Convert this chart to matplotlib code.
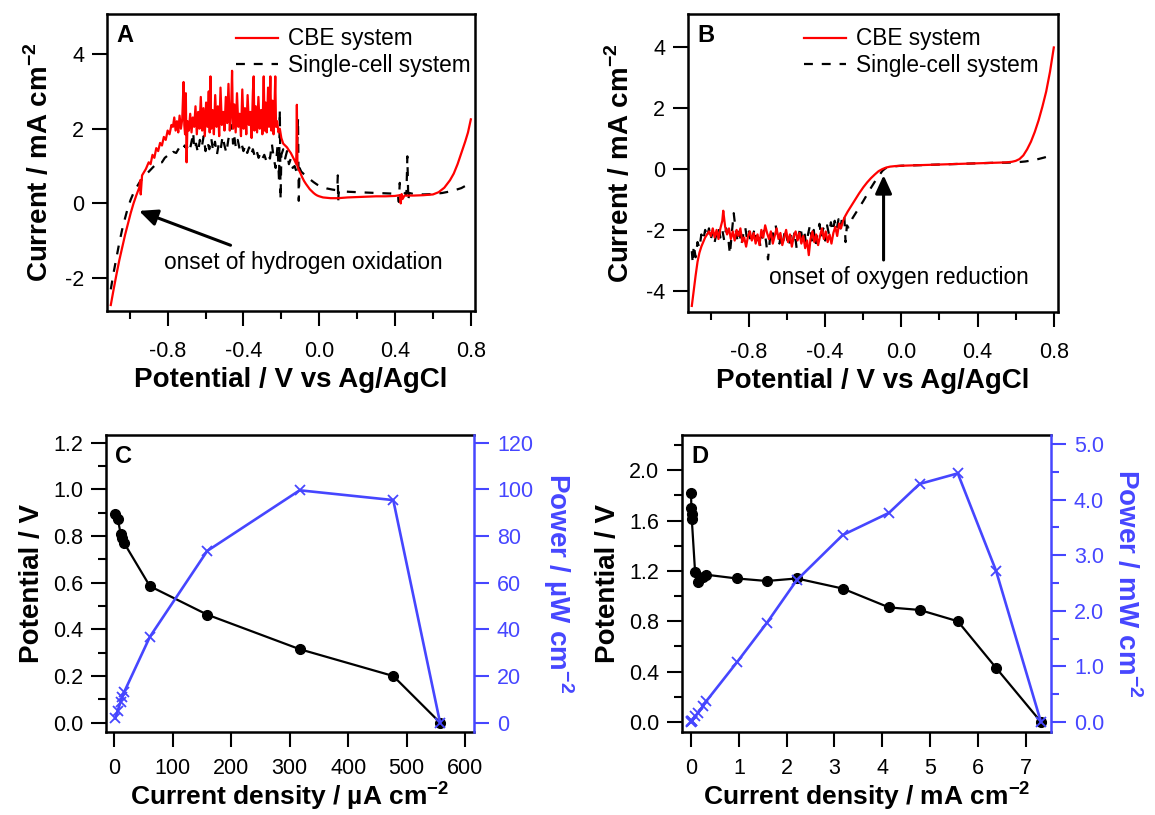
import matplotlib
matplotlib.use("Agg")
import matplotlib.pyplot as plt
from matplotlib.ticker import MultipleLocator, FormatStrFormatter

plt.rcParams['font.family'] = ['Liberation Sans', 'DejaVu Sans']
plt.rcParams['axes.unicode_minus'] = False
plt.rcParams['mathtext.fontset'] = 'custom'
plt.rcParams['mathtext.rm'] = 'Liberation Sans'
plt.rcParams['mathtext.bf'] = 'Liberation Sans:bold'

RED = '#ff0000'
BLUE = '#4646ff'

# ---- panel A: anode sweep (V vs Ag/AgCl, mA cm-2) ----
cbe_a = [
    (-1.100, -2.72), (-1.085, -2.30), (-1.070, -1.90), (-1.055, -1.52), (-1.040, -1.18),
    (-1.025, -0.85), (-1.010, -0.55), (-0.995, -0.26), (-0.980, 0.00), (-0.965, 0.22),
    (-0.950, 0.42), (-0.945, 0.62), (-0.942, 0.24), (-0.935, 0.75), (-0.915, 0.92),
    (-0.900, 1.10), (-0.890, 1.05), (-0.880, 1.30), (-0.870, 1.22), (-0.860, 1.48),
    (-0.850, 1.40), (-0.840, 1.62), (-0.830, 1.55), (-0.820, 1.78), (-0.810, 1.70),
    (-0.800, 1.95), (-0.790, 1.85), (-0.780, 2.10), (-0.772, 2.05), (-0.765, 2.30),
    (-0.758, 1.95), (-0.751, 2.20), (-0.744, 1.90), (-0.737, 2.35), (-0.730, 2.00),
    (-0.723, 2.25), (-0.716, 3.25), (-0.712, 2.10), (-0.708, 1.85), (-0.704, 2.95),
    (-0.700, 1.10), (-0.695, 2.20), (-0.688, 1.95), (-0.681, 2.40), (-0.674, 1.90),
    (-0.667, 2.30), (-0.660, 2.05), (-0.653, 2.60), (-0.646, 1.85), (-0.639, 2.45),
    (-0.632, 2.00), (-0.625, 2.85), (-0.618, 1.95), (-0.611, 2.55), (-0.604, 1.80),
    (-0.597, 2.70), (-0.590, 2.05), (-0.583, 3.00), (-0.578, 1.90), (-0.574, 3.40),
    (-0.570, 2.00), (-0.563, 2.50), (-0.556, 1.85), (-0.549, 2.90), (-0.542, 2.05),
    (-0.535, 2.60), (-0.528, 1.80), (-0.521, 3.10), (-0.514, 2.10), (-0.507, 2.45),
    (-0.500, 1.95), (-0.493, 2.85), (-0.486, 2.15), (-0.479, 3.20), (-0.472, 1.95),
    (-0.465, 2.50), (-0.460, 3.55), (-0.455, 2.00), (-0.448, 2.65), (-0.441, 1.90),
    (-0.434, 2.95), (-0.427, 2.05), (-0.420, 2.40), (-0.413, 1.80), (-0.406, 3.05),
    (-0.399, 2.00), (-0.392, 2.55), (-0.385, 1.85), (-0.378, 2.90), (-0.371, 2.10),
    (-0.364, 2.45), (-0.357, 1.75), (-0.350, 3.00), (-0.346, 3.40), (-0.342, 1.95),
    (-0.335, 2.60), (-0.328, 1.90), (-0.321, 2.85), (-0.314, 2.00), (-0.307, 2.50),
    (-0.300, 1.85), (-0.293, 3.40), (-0.288, 1.95), (-0.283, 2.70), (-0.277, 1.90),
    (-0.270, 3.10), (-0.265, 2.05), (-0.258, 3.40), (-0.253, 1.95), (-0.247, 2.75),
    (-0.241, 1.85), (-0.236, 2.60), (-0.232, 3.40), (-0.228, 2.05), (-0.222, 2.20),
    (-0.215, 1.90), (-0.208, 2.00), (-0.200, 1.75), (-0.190, 1.60), (-0.180, 1.55),
    (-0.170, 1.50), (-0.160, 1.42), (-0.150, 1.35), (-0.140, 1.25), (-0.130, 1.15),
    (-0.121, 1.05), (-0.118, 2.64), (-0.115, 1.00), (-0.108, 0.90), (-0.100, 0.82),
    (-0.090, 0.70), (-0.080, 0.60), (-0.070, 0.52), (-0.060, 0.45), (-0.050, 0.38),
    (-0.040, 0.33), (-0.030, 0.28), (-0.020, 0.24), (-0.010, 0.21), (0.000, 0.19),
    (0.020, 0.16), (0.040, 0.15), (0.060, 0.14), (0.080, 0.14), (0.100, 0.14),
    (0.150, 0.16), (0.200, 0.17), (0.250, 0.18), (0.300, 0.19), (0.350, 0.19),
    (0.400, 0.20), (0.425, 0.22), (0.430, 0.00), (0.435, 0.25), (0.440, 0.12),
    (0.450, 0.21), (0.500, 0.21), (0.550, 0.22), (0.600, 0.24), (0.630, 0.30),
    (0.660, 0.42), (0.690, 0.62), (0.710, 0.80), (0.730, 1.05), (0.750, 1.35),
    (0.770, 1.65), (0.785, 1.90), (0.800, 2.25),
]
single_a = [
    (-1.100, -2.30), (-1.085, -1.85), (-1.070, -1.45), (-1.055, -1.05), (-1.040, -0.70),
    (-1.025, -0.40), (-1.010, -0.12), (-0.995, 0.10), (-0.980, 0.28), (-0.965, 0.42),
    (-0.950, 0.55), (-0.935, 0.65), (-0.920, 0.74), (-0.905, 0.82), (-0.890, 0.90),
    (-0.875, 0.98), (-0.860, 1.05), (-0.845, 1.12), (-0.830, 1.10), (-0.815, 1.22),
    (-0.800, 1.28), (-0.785, 1.25), (-0.770, 1.38), (-0.755, 1.35), (-0.740, 1.48),
    (-0.725, 1.40), (-0.710, 1.55), (-0.700, 1.45), (-0.690, 1.62), (-0.680, 1.50),
    (-0.670, 1.75), (-0.665, 1.90), (-0.660, 1.45), (-0.650, 1.60), (-0.640, 1.35),
    (-0.630, 1.70), (-0.620, 1.50), (-0.610, 1.80), (-0.600, 1.40), (-0.590, 1.65),
    (-0.580, 1.45), (-0.570, 1.75), (-0.560, 1.40), (-0.550, 1.65), (-0.540, 1.30),
    (-0.530, 1.60), (-0.520, 1.45), (-0.510, 1.80), (-0.500, 1.55), (-0.490, 1.35),
    (-0.480, 1.70), (-0.470, 1.95), (-0.460, 2.10), (-0.455, 1.60), (-0.450, 1.85),
    (-0.440, 1.50), (-0.430, 1.70), (-0.420, 1.45), (-0.410, 1.60), (-0.400, 1.40),
    (-0.390, 1.55), (-0.380, 1.35), (-0.370, 1.50), (-0.360, 1.30), (-0.350, 1.45),
    (-0.340, 1.25), (-0.330, 1.40), (-0.320, 1.22), (-0.310, 1.35), (-0.300, 1.20),
    (-0.290, 1.30), (-0.280, 1.15), (-0.270, 1.30), (-0.260, 1.20), (-0.250, 1.60),
    (-0.240, 1.20), (-0.230, 0.95), (-0.220, 1.55), (-0.212, 0.60), (-0.208, 2.50),
    (-0.204, 0.10), (-0.200, 1.30), (-0.190, 1.45), (-0.180, 1.20), (-0.170, 1.40),
    (-0.160, 1.05), (-0.150, 1.20), (-0.140, 0.95), (-0.130, 1.00), (-0.120, 0.85),
    (-0.112, 2.28), (-0.108, 0.07), (-0.104, 0.95), (-0.095, 0.85), (-0.080, 0.78),
    (-0.065, 0.72), (-0.050, 0.65), (-0.030, 0.57), (-0.010, 0.50), (0.010, 0.45),
    (0.040, 0.40), (0.070, 0.37), (0.095, 0.35), (0.098, 0.75), (0.100, 0.05),
    (0.103, 0.34), (0.130, 0.32), (0.160, 0.31), (0.200, 0.30), (0.250, 0.29),
    (0.300, 0.28), (0.350, 0.27), (0.400, 0.26), (0.415, 0.24), (0.420, 0.04),
    (0.425, 0.55), (0.430, 0.10), (0.440, 0.35), (0.460, 0.22), (0.465, 1.26),
    (0.470, 0.08), (0.475, 0.28), (0.500, 0.25), (0.550, 0.24), (0.600, 0.25),
    (0.650, 0.28), (0.700, 0.33), (0.750, 0.41), (0.800, 0.55),
]

# ---- panel B: cathode sweep ----
cbe_b = [
    (-1.100, -4.50), (-1.090, -4.00), (-1.080, -3.50), (-1.070, -3.05), (-1.060, -2.75),
    (-1.050, -2.55), (-1.040, -2.40), (-1.030, -2.25), (-1.020, -2.15), (-1.010, -2.05),
    (-1.000, -2.20), (-0.990, -1.95), (-0.980, -2.25), (-0.970, -2.00), (-0.960, -2.30),
    (-0.950, -1.95), (-0.940, -1.70), (-0.935, -1.37), (-0.925, -1.90), (-0.915, -2.15),
    (-0.905, -1.95), (-0.895, -2.30), (-0.885, -2.05), (-0.875, -2.35), (-0.865, -2.00),
    (-0.855, -2.20), (-0.845, -1.95), (-0.835, -2.40), (-0.825, -2.25), (-0.815, -2.55),
    (-0.805, -2.20), (-0.795, -2.05), (-0.785, -2.35), (-0.775, -2.10), (-0.765, -2.45),
    (-0.755, -2.15), (-0.745, -2.50), (-0.735, -2.00), (-0.725, -2.25), (-0.715, -1.85),
    (-0.705, -2.10), (-0.695, -2.30), (-0.685, -2.05), (-0.675, -2.45), (-0.665, -2.20),
    (-0.655, -1.95), (-0.645, -2.30), (-0.635, -2.10), (-0.625, -2.50), (-0.615, -2.25),
    (-0.605, -2.00), (-0.595, -2.40), (-0.585, -2.15), (-0.575, -2.55), (-0.565, -2.20),
    (-0.555, -2.05), (-0.545, -2.35), (-0.535, -2.10), (-0.525, -2.45), (-0.515, -2.20),
    (-0.505, -2.60), (-0.495, -2.35), (-0.486, -2.83), (-0.477, -2.30), (-0.467, -2.05),
    (-0.457, -2.40), (-0.447, -2.15), (-0.437, -2.50), (-0.427, -2.20), (-0.417, -1.95),
    (-0.407, -2.30), (-0.397, -2.05), (-0.387, -2.40), (-0.377, -2.15), (-0.367, -2.45),
    (-0.357, -2.10), (-0.347, -1.90), (-0.337, -2.20), (-0.327, -1.79), (-0.317, -1.95),
    (-0.307, -1.72), (-0.297, -1.57), (-0.282, -1.40), (-0.267, -1.25), (-0.252, -1.10),
    (-0.237, -0.95), (-0.222, -0.80), (-0.200, -0.60), (-0.180, -0.44), (-0.160, -0.30),
    (-0.140, -0.18), (-0.120, -0.07), (-0.100, 0.00), (-0.080, 0.05), (-0.060, 0.08),
    (-0.030, 0.10), (0.000, 0.11), (0.050, 0.12), (0.100, 0.13), (0.150, 0.14),
    (0.200, 0.15), (0.250, 0.16), (0.300, 0.17), (0.350, 0.18), (0.400, 0.19),
    (0.450, 0.20), (0.500, 0.21), (0.550, 0.22), (0.580, 0.24), (0.600, 0.27),
    (0.620, 0.33), (0.640, 0.45), (0.660, 0.65), (0.680, 0.90), (0.700, 1.22),
    (0.720, 1.60), (0.740, 2.05), (0.760, 2.55), (0.780, 3.20), (0.800, 4.00),
]
single_b = [
    (-1.100, -2.70), (-1.095, -3.10), (-1.090, -2.50), (-1.080, -2.90), (-1.070, -2.40),
    (-1.060, -2.60), (-1.050, -2.15), (-1.040, -2.35), (-1.030, -2.00), (-1.020, -2.25),
    (-1.010, -1.95), (-1.000, -2.30), (-0.990, -2.05), (-0.980, -2.40), (-0.970, -2.10),
    (-0.960, -1.90), (-0.950, -2.25), (-0.940, -2.00), (-0.930, -2.35), (-0.920, -1.95),
    (-0.910, -2.20), (-0.900, -2.80), (-0.890, -2.10), (-0.880, -1.45), (-0.870, -2.00),
    (-0.860, -2.35), (-0.850, -2.05), (-0.840, -2.50), (-0.830, -2.15), (-0.820, -1.90),
    (-0.810, -2.30), (-0.800, -2.05), (-0.790, -2.45), (-0.780, -2.20), (-0.770, -1.95),
    (-0.760, -2.35), (-0.750, -2.10), (-0.740, -2.55), (-0.730, -2.20), (-0.720, -2.00),
    (-0.710, -2.40), (-0.700, -2.97), (-0.690, -2.30), (-0.680, -2.00), (-0.670, -2.25),
    (-0.660, -1.85), (-0.650, -2.20), (-0.640, -2.45), (-0.630, -2.10), (-0.620, -2.35),
    (-0.610, -1.95), (-0.600, -2.30), (-0.590, -2.55), (-0.580, -2.15), (-0.570, -2.40),
    (-0.560, -2.05), (-0.550, -2.60), (-0.540, -2.20), (-0.530, -1.90), (-0.520, -2.30),
    (-0.510, -2.05), (-0.500, -2.45), (-0.490, -2.15), (-0.480, -1.85), (-0.470, -2.35),
    (-0.460, -2.00), (-0.450, -2.50), (-0.440, -2.10), (-0.430, -1.80), (-0.420, -2.25),
    (-0.410, -1.95), (-0.400, -2.35), (-0.390, -1.85), (-0.380, -2.15), (-0.370, -1.75),
    (-0.360, -2.05), (-0.350, -1.70), (-0.340, -2.00), (-0.330, -1.65), (-0.320, -1.95),
    (-0.310, -1.55), (-0.300, -1.50), (-0.293, -2.40), (-0.286, -1.85), (-0.278, -1.92),
    (-0.270, -1.80), (-0.257, -1.62), (-0.240, -1.45), (-0.220, -1.25), (-0.200, -1.05),
    (-0.186, -0.90), (-0.170, -0.72), (-0.150, -0.52), (-0.130, -0.32), (-0.116, -0.20),
    (-0.100, -0.06), (-0.085, 0.02), (-0.070, 0.06), (-0.050, 0.08), (-0.020, 0.10),
    (0.000, 0.11), (0.050, 0.12), (0.100, 0.13), (0.150, 0.14), (0.200, 0.15),
    (0.250, 0.16), (0.300, 0.17), (0.350, 0.18), (0.400, 0.19), (0.450, 0.20),
    (0.500, 0.21), (0.550, 0.21), (0.600, 0.22), (0.650, 0.25), (0.700, 0.30),
    (0.750, 0.38), (0.800, 0.48),
]

# ---- panel C: single-cell polarisation (uA cm-2, V, uW cm-2) ----
c_current = [2, 6, 11, 14, 17, 61, 159, 317, 477, 557]
c_potential = [0.895, 0.875, 0.81, 0.79, 0.77, 0.585, 0.463, 0.315, 0.20, 0.0]
c_power = [1.8, 5.2, 8.9, 11.1, 13.1, 36.8, 73.6, 99.6, 95.4, 0.0]

# ---- panel D: CBE polarisation (mA cm-2, V, mW cm-2) ----
d_current = [0.0, 0.005, 0.010, 0.015, 0.084, 0.153, 0.245, 0.314, 0.956, 1.584,
             2.211, 3.17, 4.14, 4.78, 5.58, 6.38, 7.32]
d_potential = [1.82, 1.70, 1.65, 1.61, 1.19, 1.11, 1.15, 1.17, 1.14, 1.12,
               1.14, 1.06, 0.91, 0.89, 0.80, 0.43, 0.0]
d_power = [0.0, 0.01, 0.02, 0.02, 0.10, 0.17, 0.28, 0.37, 1.07, 1.78,
           2.55, 3.36, 3.76, 4.28, 4.47, 2.72, 0.0]

TICK_FS = 15.5
LAB_FS = 20
TXT_FS = 16.3


def style(ax, color='black', xpad=11):
    ax.tick_params(which='both', direction='out', width=1.5, labelsize=TICK_FS,
                   colors=color)
    ax.tick_params(which='major', length=10.5)
    ax.tick_params(which='minor', length=5.5)
    ax.tick_params(axis='x', pad=xpad)
    ax.tick_params(axis='y', pad=6)
    for s in ax.spines.values():
        s.set_linewidth(1.8)


fig = plt.figure(figsize=(11.55, 8.15), dpi=100)
axA = fig.add_axes([107 / 1155, 1 - 311 / 815, 368 / 1155, 297 / 815])
axB = fig.add_axes([688 / 1155, 1 - 312 / 815, 370 / 1155, 298 / 815])
axC = fig.add_axes([106 / 1155, 1 - 732 / 815, 368 / 1155, 297 / 815])
axD = fig.add_axes([682 / 1155, 1 - 732 / 815, 369 / 1155, 297 / 815])

cv_label = r'Current / mA cm$^{\mathbf{-2}}$'
pot_label = 'Potential / V vs Ag/AgCl'

for ax, cbe, single, ylim, letter, leg_x in [
        (axA, cbe_a, single_a, (-2.88, 5.07), 'A', 1.032),
        (axB, cbe_b, single_b, (-4.7, 5.1), 'B', 0.99)]:
    v, i = zip(*cbe)
    ax.plot(v, i, color=RED, lw=1.6, label='CBE system', zorder=3)
    v, i = zip(*single)
    ax.plot(v, i, color='black', lw=1.6, dashes=(4, 4), label='Single-cell system',
            zorder=2)
    ax.set_xlim(-1.12, 0.822)
    ax.set_ylim(*ylim)
    ax.xaxis.set_major_locator(MultipleLocator(0.4))
    ax.xaxis.set_minor_locator(MultipleLocator(0.2))
    ax.xaxis.set_major_formatter(FormatStrFormatter('%.1f'))
    ax.yaxis.set_major_locator(MultipleLocator(2))
    style(ax)
    ax.set_xlabel(pot_label, fontsize=LAB_FS, fontweight='bold', labelpad=4)
    ax.set_ylabel(cv_label, fontsize=LAB_FS, fontweight='bold', labelpad=8)
    ax.text(0.025, 0.965, letter, transform=ax.transAxes, fontsize=17,
            fontweight='bold', va='top', ha='left')
    ax.legend(loc='upper right', bbox_to_anchor=(leg_x, 1.008), frameon=False,
              fontsize=TXT_FS, handlelength=1.85, handletextpad=0.45,
              labelspacing=0.15, borderaxespad=0.3)

axA.annotate('', xy=(-0.951, -0.2), xytext=(-0.468, -1.12),
             arrowprops=dict(arrowstyle='-|>,head_length=1.1,head_width=0.5',
                             color='black', lw=2.2, shrinkA=0, shrinkB=0))
axA.text(-0.821, -1.573, 'onset of hydrogen oxidation', fontsize=TXT_FS,
         va='center', ha='left')
axB.annotate('', xy=(-0.0935, -0.2), xytext=(-0.0935, -2.99),
             arrowprops=dict(arrowstyle='-|>,head_length=1.1,head_width=0.5',
                             color='black', lw=2.2, shrinkA=0, shrinkB=0))
axB.text(-0.697, -3.55, 'onset of oxygen reduction', fontsize=TXT_FS,
         va='center', ha='left')


def polar(ax, cur, pot, pw, xlim, ylim, ylim2, xmaj, ymaj, ymin, y2maj, y2min,
          y2fmt, xlab, y2lab, letter):
    ax.plot(cur, pot, color='black', lw=1.6, marker='o', ms=7, zorder=2)
    ax.set_xlim(*xlim)
    ax.set_ylim(*ylim)
    ax.xaxis.set_major_locator(MultipleLocator(xmaj))
    ax.yaxis.set_major_locator(MultipleLocator(ymaj))
    ax.yaxis.set_minor_locator(MultipleLocator(ymin))
    ax.yaxis.set_major_formatter(FormatStrFormatter('%.1f'))
    style(ax, xpad=8)
    ax.spines['right'].set_visible(False)
    ax.set_xlabel(xlab, fontsize=19, fontweight='bold', labelpad=0)
    ax.set_ylabel('Potential / V', fontsize=LAB_FS, fontweight='bold', labelpad=6)
    ax.text(0.025, 0.965, letter, transform=ax.transAxes, fontsize=17,
            fontweight='bold', va='top', ha='left')

    ax2 = ax.twinx()
    ax2.plot(cur, pw, color=BLUE, lw=1.9, marker='x', ms=7, mew=1.3, zorder=3)
    ax2.set_ylim(*ylim2)
    ax2.yaxis.set_major_locator(MultipleLocator(y2maj))
    if y2min:
        ax2.yaxis.set_minor_locator(MultipleLocator(y2min))
    ax2.yaxis.set_major_formatter(FormatStrFormatter(y2fmt))
    style(ax2, BLUE)
    for side in ('left', 'top', 'bottom'):
        ax2.spines[side].set_visible(False)
    ax2.spines['right'].set_color(BLUE)
    ax2.set_ylabel(y2lab, fontsize=LAB_FS, fontweight='bold', color=BLUE,
                   rotation=-90, va='bottom', labelpad=6)


polar(axC, c_current, c_potential, c_power, (-14, 615), (-0.04, 1.233),
      (-4, 123.3), 100, 0.2, 0.1, 20, None, '%d',
      r'Current density / µA cm$^{\mathbf{-2}}$', r'Power / µW cm$^{\mathbf{-2}}$', 'C')
polar(axD, d_current, d_potential, d_power, (-0.19, 7.53), (-0.08, 2.28),
      (-0.18, 5.16), 1, 0.4, 0.2, 1.0, 0.5, '%.1f',
      r'Current density / mA cm$^{\mathbf{-2}}$', r'Power / mW cm$^{\mathbf{-2}}$', 'D')

fig.savefig('out.png', dpi=100)
